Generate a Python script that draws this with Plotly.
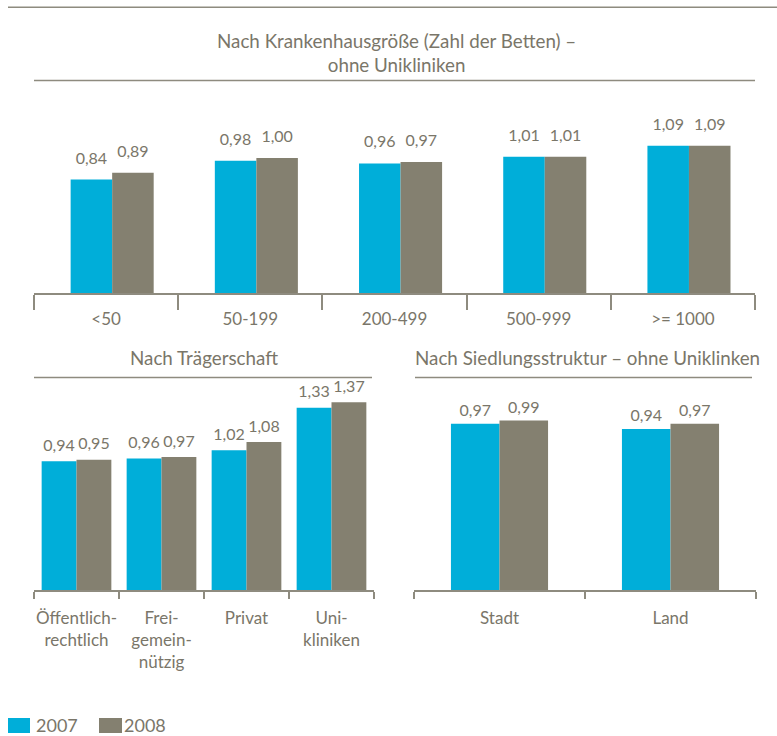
import plotly.graph_objects as go

# ---------------- data ----------------
size_cats = ["<50", "50-199", "200-499", "500-999", ">= 1000"]
size_2007 = [0.84, 0.98, 0.96, 1.01, 1.09]
size_2008 = [0.89, 1.00, 0.97, 1.01, 1.09]

traeger_cats = ["Öffentlich-<br>rechtlich", "Frei-<br>gemein-<br>nützig", "Privat", "Uni-<br>kliniken"]
traeger_2007 = [0.94, 0.96, 1.02, 1.33]
traeger_2008 = [0.95, 0.97, 1.08, 1.37]

siedlung_cats = ["Stadt", "Land"]
siedlung_2007 = [0.97, 0.94]
siedlung_2008 = [0.99, 0.97]

series_names = ["2007", "2008"]
title_top = "Nach Krankenhausgröße (Zahl der Betten) –<br>ohne Unikliniken"
title_left = "Nach Trägerschaft"
title_right = "Nach Siedlungsstruktur – ohne Uniklinken"

# ---------------- style ----------------
W, H = 777, 736
BLUE = "#00AED9"
GRAY = "#848070"
TXT = "#7A7669"
LINE = "#8E8B7F"
FONT = "Lato"

def px(x):
    return x / W

def py(y):
    return 1 - y / H

fig = go.Figure()

panels = [
    dict(cats=size_cats, a=size_2007, b=size_2008, xa="x", ya="y",
         xd=(34, 755), yd=(100, 293), ymax=193 / 135.0,
         off=(-0.102, 0.186), w=0.288, tl=15, ms=17.6, stand=10),
    dict(cats=traeger_cats, a=traeger_2007, b=traeger_2008, xa="x2", ya="y2",
         xd=(34, 374), yd=(385, 590), ymax=205 / 137.0,
         off=(-0.205, 0.205), w=0.41, tl=7, ms=8.8, stand=12),
    dict(cats=siedlung_cats, a=siedlung_2007, b=siedlung_2008, xa="x3", ya="y3",
         xd=(414, 756), yd=(385, 590), ymax=205 / 171.3,
         off=(-0.142, 0.142), w=0.284, tl=7, ms=4.0, stand=12),
]

for i, p in enumerate(panels):
    n = len(p["cats"])
    idx = list(range(n))
    for s, (vals, col, off) in enumerate(zip((p["a"], p["b"]), (BLUE, GRAY), p["off"])):
        xs = [k + off for k in idx]
        fig.add_trace(go.Bar(
            x=xs, y=vals, width=p["w"], name=series_names[s],
            marker=dict(color=col, line=dict(width=0)),
            xaxis=p["xa"], yaxis=p["ya"], showlegend=False,
            hovertemplate="%{y:.2f}<extra>" + series_names[s] + "</extra>",
        ))
        fig.add_trace(go.Scatter(
            x=xs, y=vals, mode="markers+text",
            marker=dict(size=p["ms"], opacity=0, color=col),
            texttemplate="%{y:.2f}", textposition="top center",
            textfont=dict(family=FONT, size=16, color=TXT),
            cliponaxis=False,
            xaxis=p["xa"], yaxis=p["ya"], showlegend=False, hoverinfo="skip",
        ))
    sfx = "" if i == 0 else str(i + 1)
    fig.layout["xaxis" + sfx] = dict(
        domain=[px(p["xd"][0]), px(p["xd"][1])],
        anchor=p["ya"], range=[-0.5, n - 0.5], fixedrange=True,
        tickmode="array", tickvals=idx, ticktext=p["cats"], ticks="",
        ticklabelstandoff=p["stand"],
        tickfont=dict(family=FONT, size=17, color=TXT),
        showline=True, linecolor=LINE, linewidth=1.5,
        showgrid=False, zeroline=False,
        minor=dict(tickmode="array", tickvals=[k - 0.5 for k in range(n + 1)],
                   ticks="outside", ticklen=p["tl"], tickwidth=1.5, tickcolor=LINE,
                   showgrid=False),
    )
    fig.layout["yaxis" + sfx] = dict(
        domain=[py(p["yd"][1]), py(p["yd"][0])],
        anchor=p["xa"], range=[0, p["ymax"]], fixedrange=True,
        showgrid=False, zeroline=False, showline=False, showticklabels=False, ticks="",
    )

# decorative rules
rules = [(8, 777, 7.3), (34, 755, 80.5), (34, 372, 377.5), (415, 752, 377.5)]
for x0, x1, y in rules:
    fig.add_shape(type="line", xref="paper", yref="paper",
                  x0=px(x0), x1=px(x1), y0=py(y), y1=py(y),
                  line=dict(color=LINE, width=1.5))

# panel titles
fig.add_annotation(text=title_top, xref="paper", yref="paper", x=px(396), y=py(52.5),
                   xanchor="center", yanchor="middle", showarrow=False,
                   font=dict(family=FONT, size=18.8, color=TXT), align="center")
fig.add_annotation(text=title_left, xref="paper", yref="paper", x=px(203.5), y=py(357),
                   xanchor="center", yanchor="middle", showarrow=False,
                   font=dict(family=FONT, size=18.8, color=TXT))
fig.add_annotation(text=title_right, xref="paper", yref="paper", x=px(413), y=py(357),
                   xanchor="left", yanchor="middle", showarrow=False,
                   font=dict(family=FONT, size=18.8, color=TXT))

# legend (custom, to match the large swatches)
leg = [(8, 30, 37, BLUE, series_names[0]), (99, 122, 125, GRAY, series_names[1])]
for x0, x1, tx, col, name in leg:
    fig.add_shape(type="rect", xref="paper", yref="paper",
                  x0=px(x0), x1=px(x1), y0=py(733), y1=py(718),
                  fillcolor=col, line=dict(width=0))
    fig.add_annotation(text=name, xref="paper", yref="paper", x=px(tx - 3), y=py(725),
                       xanchor="left", yanchor="middle", showarrow=False,
                       font=dict(family=FONT, size=18, color=TXT))

fig.update_layout(
    width=W, height=H, autosize=False,
    margin=dict(l=0, r=0, t=0, b=0),
    paper_bgcolor="white", plot_bgcolor="white",
    barmode="overlay", separators=",.",
    showlegend=False,
    font=dict(family=FONT, color=TXT),
)

fig.write_html(
    "out.html",
    config={"displayModeBar": False},
    post_script="document.body.style.margin='0';document.body.style.padding='0';"
                "document.body.style.overflow='hidden';",
)
